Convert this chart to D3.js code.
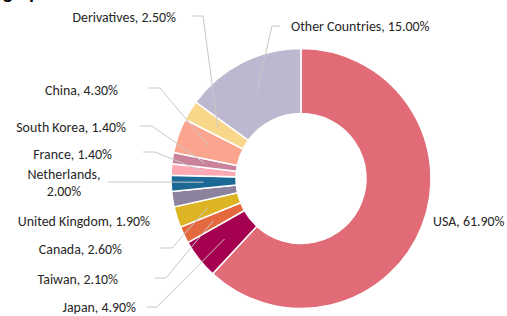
<!DOCTYPE html>
<html>
<head>
<meta charset="utf-8">
<script src="https://cdn.jsdelivr.net/npm/d3@7"></script>
<style>
  body { margin: 0; background: #fff; }
  #plot text { font-family: Carlito, Lato, "Open Sans", sans-serif; fill: #262626; }
</style>
</head>
<body>
<div id="plot"></div>
<script>

// data
var countries = ["USA", "Japan", "Taiwan", "Canada", "United Kingdom", "Netherlands",
                 "France", "South Korea", "China", "Derivatives", "Other Countries"];
var shares = [61.9, 4.9, 2.1, 2.6, 1.9, 2.0, 1.4, 1.4, 4.3, 2.5, 15.0];
var colors = ["#E16B76", "#A5004F", "#E4693F", "#DDB424", "#8C829E", "#1D6996",
              "#FDA8B2", "#C98299", "#FBA58F", "#F8D68A", "#BDB8D0"];

// manual label layout (like the excel one): text pos + leader elbow [x1, x2, y]
var labelLayout = [
    {x: 433, y: 221, anchor: "start", line: null},
    {x: 136, y: 307, anchor: "end", line: [147, 157, 307]},
    {x: 118, y: 279, anchor: "end", line: [155, 166, 278]},
    {x: 122, y: 249, anchor: "end", line: [160, 172, 248]},
    {x: 150, y: 221, anchor: "end", line: null},
    {x: 64, y: 174, anchor: "middle", line: [108, 118, 182]},
    {x: 112, y: 154, anchor: "end", line: [143, 155, 152]},
    {x: 126, y: 127, anchor: "end", line: [140, 152, 126]},
    {x: 118, y: 90, anchor: "end", line: [148, 160, 88]},
    {x: 176, y: 17, anchor: "end", line: [192, 203, 16]},
    {x: 291, y: 26, anchor: "start", line: [280, 272, 26]}
];

var width = 507, height = 316;
var cx = 301, cy = 178.5, outerR = 130, innerR = 65;

var data = countries.map(function(c, i) {
    return {name: c, value: shares[i], color: colors[i], layout: labelLayout[i]};
});

var svg = d3.select("#plot").append("svg")
    .attr("width", width)
    .attr("height", height);

// title, cut at the top of the picture
var title = svg.append("text")
    .attr("y", -1)
    .style("font-size", "20px")
    .style("font-weight", "bold")
    .style("fill", "#000")
    .text("Geographic Breakdown");
title.attr("x", 3 - title.node().getSubStringLength(0, 3));

var pie = d3.pie().sort(null).value(function(d) { return d.value; });
var arc = d3.arc().innerRadius(innerR).outerRadius(outerR);
var arcs = pie(data);

var root = svg.append("g")
    .attr("transform", "translate(" + cx + "," + cy + ")");

root.selectAll(".slice")
    .data(arcs)
    .enter().append("path")
    .attr("class", "slice")
    .attr("d", arc)
    .style("fill", function(d) { return d.data.color; })
    .style("stroke", "#fff")
    .style("stroke-width", 1.5);

// leader lines
var lines = svg.append("g");
arcs.forEach(function(d) {
    var l = d.data.layout.line;
    if (!l) return;
    var c = arc.centroid(d);
    var pts = [[l[0], l[2]], [l[1], l[2]], [cx + c[0], cy + c[1]]];
    lines.append("polyline")
        .attr("points", pts.map(function(p) { return p.join(","); }).join(" "))
        .style("fill", "none")
        .style("stroke", "#c8c8c8")
        .style("stroke-width", 1);
});

// labels
var labels = svg.append("g").style("font-size", "13.9px");
data.forEach(function(d) {
    var lay = d.layout;
    var txt = d.name + ", " + d.value.toFixed(2) + "%";
    var t = labels.append("text")
        .attr("x", lay.x)
        .attr("y", lay.y)
        .attr("dy", "0.35em")
        .attr("text-anchor", lay.anchor);
    if (d.name == "Netherlands") {
        t.append("tspan").attr("x", lay.x).text(d.name + ",");
        t.append("tspan").attr("x", lay.x).attr("dy", "1.2em").text(d.value.toFixed(2) + "%");
    } else {
        t.text(txt);
    }
});

</script>
</body>
</html>
